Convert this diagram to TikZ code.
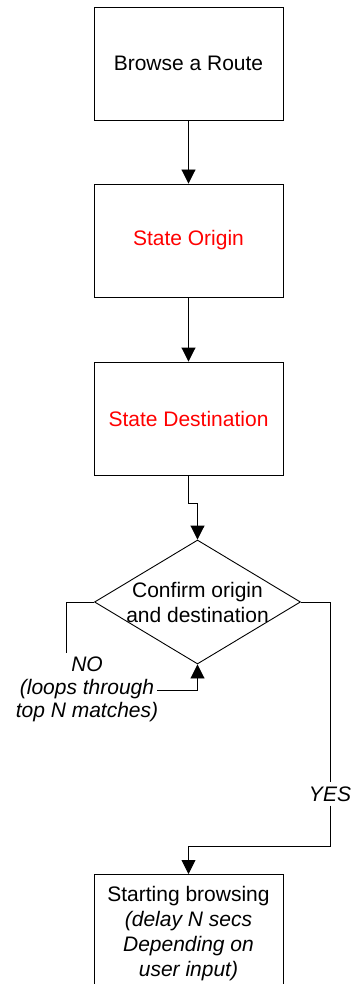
\documentclass[tikz,border=0pt]{standalone}
\usepackage{fontspec}
\setmainfont{Liberation Sans}
\usetikzlibrary{arrows.meta,shapes.geometric}
\tikzset{
  stepbox/.style={draw, line width=0.9pt, minimum width=189pt, minimum height=113pt, inner sep=0pt,
    font=\fontsize{21}{25}\selectfont, align=center},
  redtext/.style={text=red},
  link/.style={draw, line width=0.9pt},
  arr/.style={link, -{Triangle[width=14pt,length=14pt]}},
  lbl/.style={font=\fontsize{21}{23}\selectfont\itshape, align=center, inner sep=0pt},
}
\begin{document}
\begin{tikzpicture}[x=1pt, y=-1pt]
  \useasboundingbox (0,0) rectangle (356,984);
  \clip (0,0) rectangle (356,984);

  % process steps
  \node[stepbox] (b1) at (188.5,63.5) {Browse a Route};
  \node[stepbox, redtext] (b2) at (188.5,240.5) {State Origin};
  \node[stepbox, redtext] (b3) at (188.5,418.5) {State Destination};

  % decision
  \node[diamond, draw, line width=0.9pt, minimum width=206pt, minimum height=124pt, inner sep=0pt] (dia) at (197.5,602) {};
  \node[font=\fontsize{21}{25}\selectfont, align=center, inner sep=0pt] (diat) at (197.5,602.5) {Confirm origin\\and destination};

  % final step, running past the lower edge
  \node[stepbox, anchor=north, minimum height=118pt] (b4) at (188.5,874)
    {Starting browsing\\\itshape(delay N secs\\\itshape Depending on\\\itshape user input)};

  % branch labels
  \node[lbl] (nolab) at (87,689) {NO\\(loops through\\top N matches)};
  \node[lbl, fill=white, inner sep=4pt] (yes) at (330,794) {YES};

  % bends of the connectors
  \coordinate (nodown) at (66,653);
  \coordinate (noback) at (157,690);
  \coordinate (yesturn) at (330,846);

  % straight flow
  \draw[arr] (b1.south) -- (b2.north);
  \draw[arr] (b2.south) -- (b3.north);
  \draw[arr] (b3.south) -- ++(0,28) -| (dia.north);

  % NO loop
  \draw[link] (dia.west) -| (nodown);
  \draw[arr] (noback) -| (dia.south);

  % YES branch
  \draw[link] (dia.east) -| (yes.north);
  \draw[arr] (yes.south) -- (yesturn) -| (b4.north);
\end{tikzpicture}
\end{document}
